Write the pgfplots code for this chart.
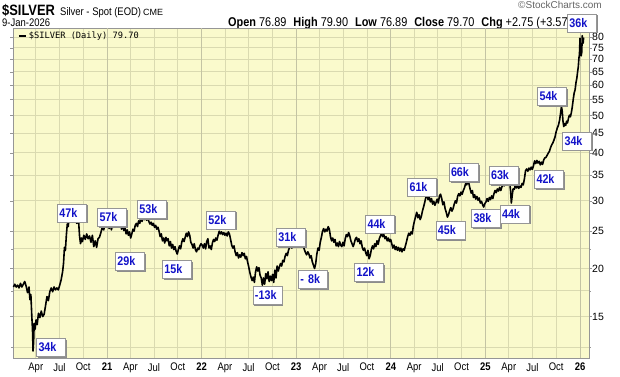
\documentclass[border=0pt]{standalone}
\usepackage{fontspec}
\setmainfont{Liberation Sans}
\newfontfamily\narrow[FakeStretch=0.86]{Liberation Sans}
\newfontfamily\mono{DejaVu Sans Mono}
\usepackage{pgfplots}
\pgfplotsset{compat=1.18}
\usetikzlibrary{shadows}
\definecolor{bg}{RGB}{250,250,204}
\definecolor{gridc}{RGB}{218,218,176}
\definecolor{yeargrid}{RGB}{196,196,164}
\definecolor{lblue}{RGB}{18,18,200}
\definecolor{bordc}{RGB}{150,150,150}
\tikzset{vbox/.style={draw=bordc, fill=white, text=lblue, font=\narrow\bfseries\fontsize{12.5}{13}\selectfont,
  inner xsep=2pt, inner ysep=0pt, minimum height=18pt, text width=25pt, align=left,
  drop shadow={shadow xshift=1.5pt, shadow yshift=-1.5pt, fill=black!45, opacity=1}}}
\begin{document}
\begin{tikzpicture}[x=1pt,y=1pt]
\useasboundingbox (0,0) rectangle (620,376);
\fill[white] (0,0) rectangle (620,376);
\node[anchor=base west,inner sep=0] at (2,360) {\narrow\fontsize{15}{16}\selectfont\bfseries\$SILVER};
\node[anchor=base west,inner sep=0] at (60,360) {\narrow\fontsize{11}{12}\selectfont Silver - Spot (EOD)};
\node[anchor=base west,inner sep=0] at (143,360) {\fontsize{9}{10}\selectfont CME};
\node[anchor=base west,inner sep=0] at (2,349.5) {\narrow\fontsize{11}{12}\selectfont 9-Jan-2026};
\node[anchor=base west,inner sep=0] at (228,349.5) {\narrow\fontsize{12.7}{13}\selectfont\textbf{Open} 76.89\hspace{7pt}\textbf{High} 79.90\hspace{7pt}\textbf{Low} 76.89\hspace{7pt}\textbf{Close} 79.70\hspace{7pt}\textbf{Chg} +2.75 (+3.57\%)};
\node[anchor=base west,inner sep=0,text=black!60] at (518,367.5) {\fontsize{10}{11}\selectfont ©StockCharts.com};
\begin{axis}[at={(13pt,18pt)}, anchor=south west, scale only axis, width=576pt, height=330pt,
  ymode=log, xmin=2020.006, xmax=2026.095, ymin=11.7, ymax=84.43,
  axis background/.style={fill=bg},
  axis line style={draw=bordc},
  clip mode=individual,
  ytick={15,20,25,30,35,40,45,50,55,60,65,70,75,80},
  yticklabels={15,20,25,30,35,40,45,50,55,60,65,70,75,80},
  minor ytick={12.5,17.5,22.5},
  yticklabel pos=right,
  ymajorgrids, yminorgrids, xmajorgrids,
  major grid style={draw=gridc, line width=0.7pt},
  minor grid style={draw=gridc, line width=0.7pt},
  ytick style={draw=bordc}, tick align=outside, major tick length=3pt, minor tick length=2pt,
  xtick style={draw=none},
  xtick={2020.247,2020.496,2020.748,2021,2021.247,2021.496,2021.748,2022,2022.247,2022.496,2022.748,2023,2023.247,2023.496,2023.748,2024,2024.247,2024.496,2024.748,2025,2025.247,2025.496,2025.748,2026},
  xticklabels={Apr,Jul,Oct,\textbf{21},Apr,Jul,Oct,\textbf{22},Apr,Jul,Oct,\textbf{23},Apr,Jul,Oct,\textbf{24},Apr,Jul,Oct,\textbf{25},Apr,Jul,Oct,\textbf{26}},
  extra x ticks={2021,2022,2023,2024,2025,2026},
  extra x tick labels={},
  extra x tick style={grid=major, major grid style={draw=yeargrid, line width=0.8pt}},
  every x tick label/.append style={font=\narrow\fontsize{11}{12}\selectfont, inner sep=0pt, anchor=north, yshift=-2pt},
  every y tick label/.append style={font=\fontsize{10.5}{12}\selectfont, inner sep=0pt, anchor=west, xshift=0pt},
  legend style={at={(axis description cs:0.006,0.997)}, anchor=north west, draw=none, fill=none,
    font=\mono\fontsize{8.7}{10}\selectfont, inner sep=1pt},
  legend cell align=left,
  legend image code/.code={\draw[black, line width=2.2pt] (0pt,0pt) -- (7pt,0pt);},
]
\addplot[black, line width=1.6pt, line join=round] coordinates {
(2020.010,17.9)(2020.025,18.2)(2020.040,17.9)(2020.055,18.1)(2020.070,17.8)(2020.085,18.3)(2020.100,17.9)(2020.115,18.2)(2020.130,18.5)(2020.145,18.0)(2020.160,17.3)(2020.175,17.9)(2020.185,16.6)(2020.195,17.1)(2020.205,15.0)(2020.212,13.9)(2020.218,12.2)(2020.224,12.9)(2020.230,14.4)(2020.240,13.9)(2020.250,14.7)(2020.262,14.3)(2020.275,15.3)(2020.290,14.9)(2020.305,15.5)(2020.320,15.0)(2020.335,15.2)(2020.350,16.0)(2020.365,16.9)(2020.380,16.5)(2020.395,17.4)(2020.410,17.8)(2020.425,17.4)(2020.440,17.9)(2020.455,17.6)(2020.470,17.8)(2020.485,17.6)(2020.500,18.1)(2020.515,18.7)(2020.530,19.6)(2020.540,20.6)(2020.550,22.7)(2020.560,22.3)(2020.570,24.4)(2020.580,26.1)(2020.590,25.7)(2020.600,27.5)(2020.610,28.0)(2020.620,26.6)(2020.630,27.7)(2020.640,26.9)(2020.650,27.4)(2020.660,26.6)(2020.670,27.3)(2020.680,26.2)(2020.690,27.0)(2020.700,26.4)(2020.710,24.2)(2020.720,23.2)(2020.730,24.0)(2020.740,23.5)(2020.755,24.4)(2020.770,23.8)(2020.785,24.6)(2020.800,23.9)(2020.815,24.3)(2020.830,23.4)(2020.845,24.4)(2020.860,22.8)(2020.875,23.6)(2020.890,22.7)(2020.905,23.9)(2020.920,24.1)(2020.935,24.8)(2020.950,25.6)(2020.965,25.2)(2020.980,26.3)(2020.995,25.9)
(2021.010,26.8)(2021.022,25.4)(2021.034,26.5)(2021.046,25.2)(2021.058,26.0)(2021.070,25.6)(2021.082,26.9)(2021.094,26.3)(2021.106,27.2)(2021.118,26.6)(2021.130,27.0)(2021.142,26.1)(2021.154,25.3)(2021.166,26.0)(2021.178,25.1)(2021.190,25.5)(2021.202,24.6)(2021.214,25.2)(2021.226,24.4)(2021.238,24.9)(2021.250,24.0)(2021.262,24.6)(2021.274,25.3)(2021.286,25.0)(2021.298,25.9)(2021.310,26.2)(2021.322,25.7)(2021.334,26.6)(2021.346,26.2)(2021.358,27.0)(2021.370,26.5)(2021.382,27.2)(2021.394,26.8)(2021.406,27.3)(2021.418,26.7)(2021.430,27.1)(2021.442,26.5)(2021.454,26.1)(2021.466,26.4)(2021.478,25.9)(2021.490,26.2)(2021.502,25.6)(2021.514,25.9)(2021.526,25.3)(2021.538,25.6)(2021.550,25.0)(2021.562,24.2)(2021.574,24.6)(2021.586,23.6)(2021.598,24.0)(2021.610,23.3)(2021.622,24.1)(2021.634,23.6)(2021.646,23.9)(2021.658,22.9)(2021.670,23.5)(2021.682,22.6)(2021.694,23.1)(2021.706,22.4)(2021.718,22.8)(2021.730,22.2)(2021.742,21.8)(2021.754,22.4)(2021.766,22.9)(2021.778,22.5)(2021.790,23.4)(2021.802,23.9)(2021.814,23.5)(2021.826,24.1)(2021.838,24.7)(2021.850,24.2)(2021.862,24.9)(2021.874,24.4)(2021.886,23.4)(2021.898,23.1)(2021.910,22.6)(2021.922,23.2)(2021.934,22.4)(2021.946,22.1)(2021.958,22.6)(2021.970,22.4)(2021.982,22.9)(2021.994,23.2)
(2022.006,23.0)(2022.018,22.6)(2022.030,23.2)(2022.042,22.5)(2022.054,23.5)(2022.066,23.9)(2022.078,22.6)(2022.090,22.9)(2022.102,22.4)(2022.114,23.3)(2022.126,23.8)(2022.138,23.5)(2022.150,24.0)(2022.162,23.7)(2022.174,24.4)(2022.186,25.0)(2022.198,24.6)(2022.210,24.9)(2022.222,24.5)(2022.234,24.8)(2022.246,24.4)(2022.258,24.7)(2022.270,24.3)(2022.282,24.9)(2022.294,24.6)(2022.306,23.8)(2022.318,23.0)(2022.330,22.6)(2022.342,22.9)(2022.354,22.1)(2022.366,21.6)(2022.378,22.0)(2022.390,21.3)(2022.402,21.7)(2022.414,21.4)(2022.426,22.0)(2022.438,21.6)(2022.450,21.9)(2022.462,21.2)(2022.474,21.5)(2022.486,20.8)(2022.498,20.2)(2022.510,19.5)(2022.522,19.0)(2022.534,18.6)(2022.546,19.0)(2022.558,18.4)(2022.570,19.6)(2022.582,20.2)(2022.594,19.7)(2022.606,20.1)(2022.618,19.2)(2022.630,18.9)(2022.642,18.1)(2022.654,18.9)(2022.666,18.2)(2022.678,19.4)(2022.690,18.8)(2022.702,19.6)(2022.714,18.5)(2022.726,19.1)(2022.738,18.6)(2022.750,19.3)(2022.762,18.4)(2022.774,19.8)(2022.786,18.9)(2022.798,20.3)(2022.810,19.7)(2022.822,20.2)(2022.834,20.6)(2022.846,20.3)(2022.858,21.0)(2022.870,20.8)(2022.882,21.5)(2022.894,21.9)(2022.906,21.6)(2022.918,22.3)(2022.930,22.7)(2022.942,22.9)(2022.954,22.6)(2022.966,23.2)(2022.978,23.0)(2022.990,23.4)
(2023.002,23.6)(2023.014,24.0)(2023.026,23.4)(2023.038,23.8)(2023.050,23.2)(2023.062,23.6)(2023.074,22.9)(2023.086,22.4)(2023.098,22.0)(2023.110,21.7)(2023.122,22.1)(2023.134,21.8)(2023.146,21.3)(2023.158,21.6)(2023.170,20.8)(2023.182,20.4)(2023.194,20.0)(2023.206,20.6)(2023.218,21.8)(2023.230,22.6)(2023.242,22.3)(2023.254,23.4)(2023.266,24.1)(2023.278,25.0)(2023.290,25.4)(2023.302,24.9)(2023.314,25.3)(2023.326,25.0)(2023.338,25.7)(2023.350,25.3)(2023.362,24.2)(2023.374,23.6)(2023.386,24.0)(2023.398,23.4)(2023.410,23.8)(2023.422,22.9)(2023.434,23.3)(2023.446,22.8)(2023.458,23.5)(2023.470,23.0)(2023.482,22.8)(2023.494,23.4)(2023.506,22.9)(2023.518,23.9)(2023.530,24.5)(2023.542,24.2)(2023.554,24.8)(2023.566,24.3)(2023.578,23.6)(2023.590,23.2)(2023.602,22.8)(2023.614,23.3)(2023.626,23.9)(2023.638,24.1)(2023.650,23.5)(2023.662,23.9)(2023.674,23.2)(2023.686,23.6)(2023.698,22.7)(2023.710,22.3)(2023.722,22.6)(2023.734,22.0)(2023.746,21.6)(2023.758,22.3)(2023.770,21.2)(2023.782,21.6)(2023.794,22.4)(2023.806,22.9)(2023.818,22.5)(2023.830,23.2)(2023.842,22.8)(2023.854,23.6)(2023.866,23.1)(2023.878,23.9)(2023.890,24.3)(2023.902,24.7)(2023.914,24.2)(2023.926,24.5)(2023.938,23.9)(2023.950,24.2)(2023.962,23.6)(2023.974,24.0)(2023.986,23.5)(2023.998,23.8)
(2024.010,23.2)(2024.022,22.6)(2024.034,23.0)(2024.046,22.4)(2024.058,22.8)(2024.070,22.3)(2024.082,22.7)(2024.094,22.2)(2024.106,22.6)(2024.118,22.1)(2024.130,22.5)(2024.142,22.3)(2024.154,22.9)(2024.166,23.5)(2024.178,24.2)(2024.190,24.7)(2024.202,24.4)(2024.214,24.9)(2024.226,24.6)(2024.238,25.8)(2024.250,26.6)(2024.262,27.3)(2024.274,28.0)(2024.286,27.1)(2024.298,27.6)(2024.310,26.8)(2024.322,27.3)(2024.334,28.2)(2024.346,28.9)(2024.358,29.7)(2024.370,30.6)(2024.382,31.1)(2024.394,30.2)(2024.406,30.7)(2024.418,29.8)(2024.430,30.4)(2024.442,29.4)(2024.454,29.9)(2024.466,29.2)(2024.478,29.7)(2024.490,30.3)(2024.502,29.6)(2024.514,30.9)(2024.526,31.2)(2024.538,30.4)(2024.550,29.3)(2024.562,29.8)(2024.574,28.6)(2024.586,28.0)(2024.598,27.2)(2024.610,27.6)(2024.622,28.3)(2024.634,28.8)(2024.646,28.2)(2024.658,28.6)(2024.670,29.4)(2024.682,30.0)(2024.694,29.6)(2024.706,30.8)(2024.718,31.3)(2024.730,30.9)(2024.742,31.6)(2024.754,31.2)(2024.766,31.9)(2024.778,32.4)(2024.790,33.2)(2024.802,33.0)(2024.814,33.7)(2024.826,33.2)(2024.838,32.2)(2024.850,31.4)(2024.862,31.9)(2024.874,30.6)(2024.886,31.1)(2024.898,30.3)(2024.910,30.8)(2024.922,30.1)(2024.934,30.5)(2024.946,29.6)(2024.958,29.9)(2024.970,29.3)(2024.982,28.9)(2024.994,29.5)
(2025.006,29.8)(2025.018,30.4)(2025.030,29.9)(2025.042,30.6)(2025.054,30.2)(2025.066,30.9)(2025.078,30.4)(2025.090,31.3)(2025.102,31.9)(2025.114,31.5)(2025.126,32.2)(2025.138,31.8)(2025.150,32.5)(2025.162,31.9)(2025.174,32.6)(2025.186,33.2)(2025.198,32.8)(2025.210,33.6)(2025.222,33.1)(2025.234,33.8)(2025.246,33.4)(2025.256,33.6)(2025.266,31.8)(2025.274,29.6)(2025.282,30.8)(2025.292,32.2)(2025.304,32.1)(2025.316,32.9)(2025.328,32.4)(2025.340,33.0)(2025.352,32.3)(2025.364,32.8)(2025.376,32.5)(2025.388,33.3)(2025.400,33.0)(2025.412,34.2)(2025.424,35.9)(2025.436,36.3)(2025.448,35.8)(2025.460,36.5)(2025.472,36.1)(2025.484,36.7)(2025.496,36.2)(2025.508,37.0)(2025.520,38.1)(2025.532,37.5)(2025.544,38.2)(2025.556,37.6)(2025.568,38.0)(2025.580,37.2)(2025.592,37.8)(2025.604,37.3)(2025.616,38.3)(2025.628,38.8)(2025.640,38.9)(2025.652,39.4)(2025.664,39.9)(2025.676,40.3)(2025.688,41.2)(2025.700,41.9)(2025.712,42.4)(2025.724,43.1)(2025.736,44.0)(2025.748,45.4)(2025.760,46.4)(2025.772,47.2)(2025.784,48.6)(2025.794,50.6)(2025.804,52.8)(2025.812,51.2)(2025.820,48.3)(2025.828,46.8)(2025.838,47.6)(2025.848,47.1)(2025.858,48.3)(2025.868,47.8)(2025.878,49.2)(2025.888,50.1)(2025.898,49.6)(2025.908,50.8)(2025.918,52.6)(2025.928,55.0)(2025.938,57.2)(2025.948,58.3)(2025.958,61.0)(2025.966,62.4)(2025.974,64.8)(2025.982,67.0)(2025.988,70.4)(2025.994,72.0)(2026.000,79.4)(2026.006,72.4)(2026.012,71.5)(2026.018,73.0)(2026.024,80.6)(2026.029,78.0)(2026.033,77.1)(2026.038,79.7)
};
\addlegendentry{\$SILVER (Daily) 79.70}
\node[vbox] at (rel axis cs:0.066,0.033) {34k};
\node[vbox] at (rel axis cs:0.1024,0.4394) {47k};
\node[vbox] at (rel axis cs:0.1719,0.4258) {57k};
\node[vbox] at (rel axis cs:0.2031,0.2939) {29k};
\node[vbox] at (rel axis cs:0.2413,0.45) {53k};
\node[vbox] at (rel axis cs:0.2847,0.2682) {15k};
\node[vbox] at (rel axis cs:0.3611,0.4182) {52k};
\node[vbox] at (rel axis cs:0.4418,0.1909) {-13k};
\node[vbox] at (rel axis cs:0.4826,0.3652) {31k};
\node[vbox] at (rel axis cs:0.5208,0.2394) {- 8k};
\node[vbox] at (rel axis cs:0.6372,0.4061) {44k};
\node[vbox] at (rel axis cs:0.6181,0.2606) {12k};
\node[vbox] at (rel axis cs:0.7101,0.5182) {61k};
\node[vbox] at (rel axis cs:0.7595,0.3864) {45k};
\node[vbox] at (rel axis cs:0.7821,0.5621) {66k};
\node[vbox] at (rel axis cs:0.8212,0.4227) {38k};
\node[vbox] at (rel axis cs:0.8516,0.5545) {63k};
\node[vbox] at (rel axis cs:0.8707,0.4364) {44k};
\node[vbox] at (rel axis cs:0.9306,0.5424) {42k};
\node[vbox] at (rel axis cs:0.9358,0.7939) {54k};
\node[vbox] at (rel axis cs:0.9792,0.6576) {34k};
\node[vbox] at (rel axis cs:0.9878,1.0152) {36k};
\end{axis}
\end{tikzpicture}
\end{document}
